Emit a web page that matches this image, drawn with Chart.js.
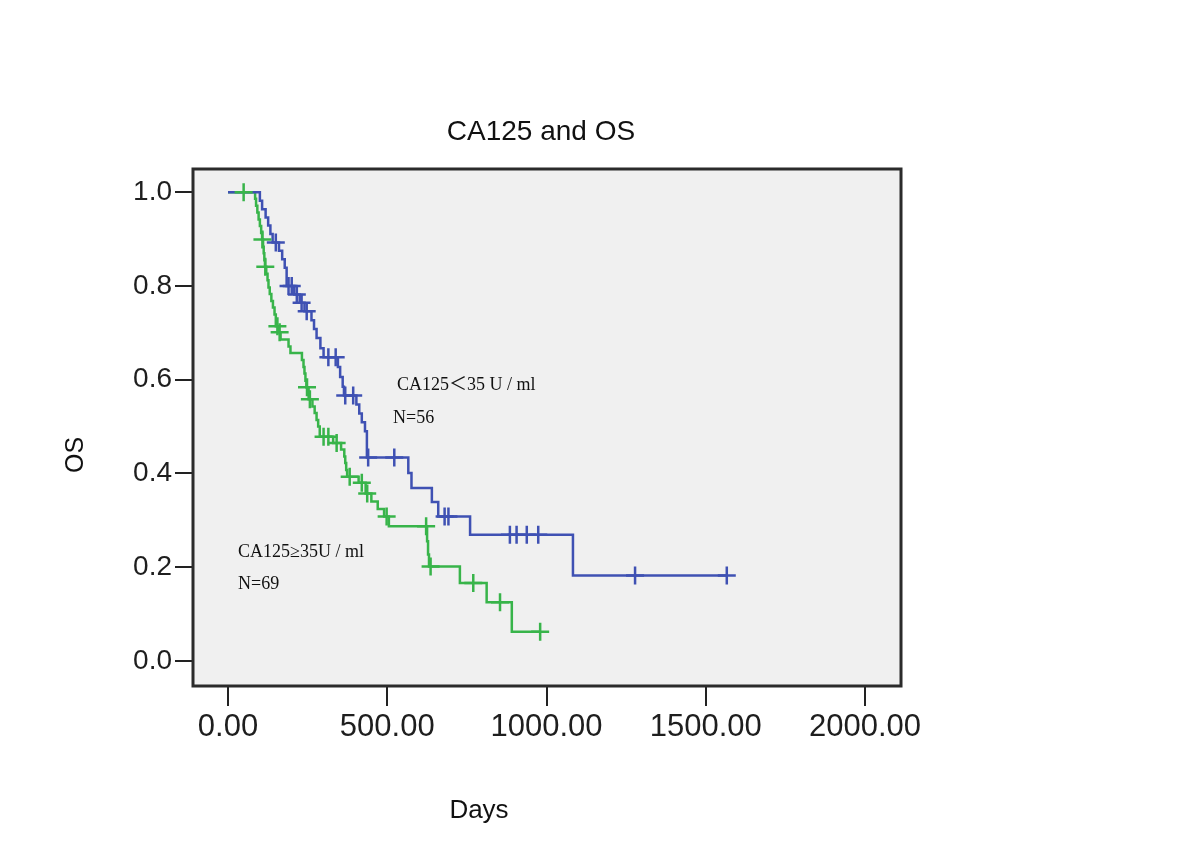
<!DOCTYPE html>
<html>
<head>
<meta charset="utf-8">
<script src="https://cdn.jsdelivr.net/npm/chart.js@4.4.1/dist/chart.umd.min.js"></script>
<style>
  html, body { margin: 0; padding: 0; background: #ffffff; }
  #wrap { width: 1200px; height: 857px; }
</style>
</head>
<body>
<div id="wrap"><canvas id="c" width="1200" height="857"></canvas></div>
<script>
// ---------------- DATA ----------------
const chartTitle = "CA125 and OS";
const xAxisTitle = "Days";
const yAxisTitle = "OS";
const xTickValues = [0, 500, 1000, 1500, 2000];
const yTickValues = [0.0, 0.2, 0.4, 0.6, 0.8, 1.0];

// label pieces: [before symbol, symbol, after symbol]
const lowLabel = ["CA125", "\uFF1C", "35 U / ml"];
const lowN = "N=56";
const highLabel = "CA125\u226535U / ml";
const highN = "N=69";

// CA125 < 35 U/ml (blue): time, survival after that time, censored flag
const lowDays = [0, 100, 107, 118, 126, 133, 140, 150, 160, 170, 178, 184, 190, 200, 208, 216, 225, 231, 240, 247, 262, 270, 278, 290, 300, 315, 338, 345, 352, 360, 364, 368, 393, 403, 412, 420, 430, 436, 440, 522, 566, 576, 640, 660, 680, 692, 760, 885, 906, 938, 974, 1083, 1278, 1566];
const lowSurv = [1.0, 0.982, 0.964, 0.946, 0.929, 0.911, 0.893, 0.893, 0.875, 0.857, 0.839, 0.80, 0.80, 0.80, 0.782, 0.782, 0.764, 0.764, 0.746, 0.746, 0.727, 0.708, 0.689, 0.667, 0.648, 0.648, 0.648, 0.627, 0.606, 0.585, 0.566, 0.566, 0.566, 0.547, 0.528, 0.509, 0.49, 0.434, 0.434, 0.434, 0.401, 0.369, 0.339, 0.308, 0.308, 0.308, 0.269, 0.269, 0.269, 0.269, 0.269, 0.182, 0.182, 0.182];
const lowCens = [0, 0, 0, 0, 0, 0, 0, 1, 0, 0, 0, 0, 1, 1, 0, 1, 0, 1, 0, 1, 0, 0, 0, 0, 0, 1, 1, 0, 0, 0, 0, 1, 1, 0, 0, 0, 0, 0, 1, 1, 0, 0, 0, 0, 1, 1, 0, 1, 1, 1, 1, 0, 1, 1];

// CA125 >= 35 U/ml (green)
const highDays = [0, 49, 85, 88, 92, 96, 100, 104, 107, 108, 110, 112, 114, 116, 117, 120, 124, 127, 131, 136, 141, 146, 150, 155, 158, 162, 165, 190, 196, 232, 237, 240, 243, 246, 248, 253, 257, 265, 272, 278, 283, 288, 300, 315, 330, 341, 355, 365, 368, 371, 374, 382, 410, 420, 432, 437, 450, 470, 490, 498, 505, 622, 625, 628, 631, 636, 728, 770, 812, 854, 891, 980];
const highSurv = [1.0, 1.0, 0.986, 0.971, 0.957, 0.942, 0.928, 0.913, 0.899, 0.899, 0.884, 0.870, 0.855, 0.841, 0.841, 0.826, 0.812, 0.797, 0.783, 0.768, 0.754, 0.739, 0.714, 0.714, 0.701, 0.701, 0.686, 0.671, 0.657, 0.642, 0.627, 0.613, 0.598, 0.584, 0.584, 0.558, 0.558, 0.543, 0.529, 0.514, 0.50, 0.478, 0.478, 0.478, 0.465, 0.465, 0.451, 0.436, 0.422, 0.407, 0.393, 0.393, 0.38, 0.38, 0.357, 0.357, 0.34, 0.324, 0.308, 0.308, 0.287, 0.287, 0.255, 0.227, 0.201, 0.201, 0.166, 0.166, 0.125, 0.125, 0.062, 0.062];
const highCens = [0, 1, 0, 0, 0, 0, 0, 0, 0, 1, 0, 0, 0, 0, 1, 0, 0, 0, 0, 0, 0, 0, 0, 1, 0, 1, 0, 0, 0, 0, 0, 0, 0, 0, 1, 0, 1, 0, 0, 0, 0, 0, 1, 1, 0, 1, 0, 0, 0, 0, 0, 1, 0, 1, 0, 1, 0, 0, 0, 1, 0, 1, 0, 0, 0, 1, 0, 1, 0, 1, 0, 1];

// ---------------- STYLE ----------------
const BLUE = '#3f51b3';
const GREEN = '#38b44a';
const SANS = '"Liberation Sans", Arial, sans-serif';
const SERIF = '"Liberation Serif", "Times New Roman", serif';
const CJK = '"Noto Sans CJK SC", "Noto Sans CJK JP", sans-serif';

function linePts(days, surv) { return days.map((d, i) => ({ x: d, y: surv[i] })); }
function censPts(days, surv, cens) {
  const out = [];
  days.forEach((d, i) => { if (cens[i]) out.push({ x: d, y: surv[i] }); });
  return out;
}

const framePlugin = {
  id: 'frame',
  beforeDraw(chart) {
    const { ctx, chartArea: a } = chart;
    ctx.save();
    ctx.fillStyle = '#ffffff';
    ctx.fillRect(0, 0, chart.width, chart.height);
    ctx.fillStyle = '#f0f0f0';
    ctx.fillRect(a.left, a.top, a.right - a.left, a.bottom - a.top);
    ctx.restore();
  },
  afterDraw(chart) {
    const { ctx, chartArea: a } = chart;
    ctx.save();
    ctx.strokeStyle = '#2b2b2b';
    ctx.lineWidth = 3;
    ctx.strokeRect(a.left, a.top, a.right - a.left, a.bottom - a.top);

    ctx.fillStyle = '#111';
    ctx.textAlign = 'center';
    ctx.textBaseline = 'alphabetic';
    ctx.font = '28px ' + SANS;
    ctx.fillText(chartTitle, 541, 140);
    ctx.font = '26px ' + SANS;
    ctx.fillText(xAxisTitle, 479, 818);
    ctx.save();
    ctx.translate(83, 455);
    ctx.rotate(-Math.PI / 2);
    ctx.font = '25px ' + SANS;
    ctx.fillText(yAxisTitle, 0, 0);
    ctx.restore();

    ctx.textAlign = 'left';
    ctx.fillStyle = '#111';
    // low group label with full-width symbol
    let x = 397;
    ctx.font = '18px ' + SERIF;
    ctx.fillText(lowLabel[0], x, 390);
    x += ctx.measureText(lowLabel[0]).width;
    ctx.font = '18px ' + CJK;
    ctx.fillText(lowLabel[1], x, 390);
    x += ctx.measureText(lowLabel[1]).width;
    ctx.font = '18px ' + SERIF;
    ctx.fillText(lowLabel[2], x, 390);
    ctx.fillText(lowN, 393, 423);
    ctx.fillText(highLabel, 238, 557);
    ctx.fillText(highN, 238, 589);
    ctx.restore();
  }
};

new Chart(document.getElementById('c'), {
  type: 'line',
  data: {
    datasets: [
      { label: 'low-cens', type: 'scatter', data: censPts(lowDays, lowSurv, lowCens), pointStyle: 'cross', pointRadius: 9, pointBorderWidth: 2.5, borderColor: BLUE, backgroundColor: BLUE, showLine: false, order: 0 },
      { label: 'high-cens', type: 'scatter', data: censPts(highDays, highSurv, highCens), pointStyle: 'cross', pointRadius: 9, pointBorderWidth: 2.5, borderColor: GREEN, backgroundColor: GREEN, showLine: false, order: 1 },
      { label: 'low', data: linePts(lowDays, lowSurv), stepped: true, borderColor: BLUE, borderWidth: 2.5, pointRadius: 0, fill: false, order: 2 },
      { label: 'high', data: linePts(highDays, highSurv), stepped: true, borderColor: GREEN, borderWidth: 2.5, pointRadius: 0, fill: false, order: 3 }
    ]
  },
  options: {
    responsive: false,
    animation: false,
    events: [],
    layout: { padding: { top: 169, right: 299, left: 0, bottom: 0 } },
    plugins: { legend: { display: false }, tooltip: { enabled: false }, title: { display: false } },
    scales: {
      x: {
        type: 'linear',
        min: -110, max: 2113,
        afterBuildTicks: s => { s.ticks = xTickValues.map(v => ({ value: v })); },
        afterFit: s => { s.height = 171; },
        grid: { drawOnChartArea: false, drawTicks: true, tickLength: 20, color: '#222', lineWidth: 2 },
        border: { display: false },
        ticks: { callback: v => Number(v).toFixed(2), font: { family: SANS, size: 31 }, color: '#1e1e1e', padding: 3, maxRotation: 0, autoSkip: false }
      },
      y: {
        type: 'linear',
        min: -0.0538, max: 1.0497,
        afterBuildTicks: s => { s.ticks = yTickValues.map(v => ({ value: v })); },
        afterFit: s => { s.width = 193; },
        grid: { drawOnChartArea: false, drawTicks: true, tickLength: 18, color: '#222', lineWidth: 2 },
        border: { display: false },
        ticks: { callback: v => Number(v).toFixed(1), font: { family: SANS, size: 28 }, color: '#1e1e1e', padding: 3, autoSkip: false }
      }
    }
  },
  plugins: [framePlugin]
});
</script>
</body>
</html>
